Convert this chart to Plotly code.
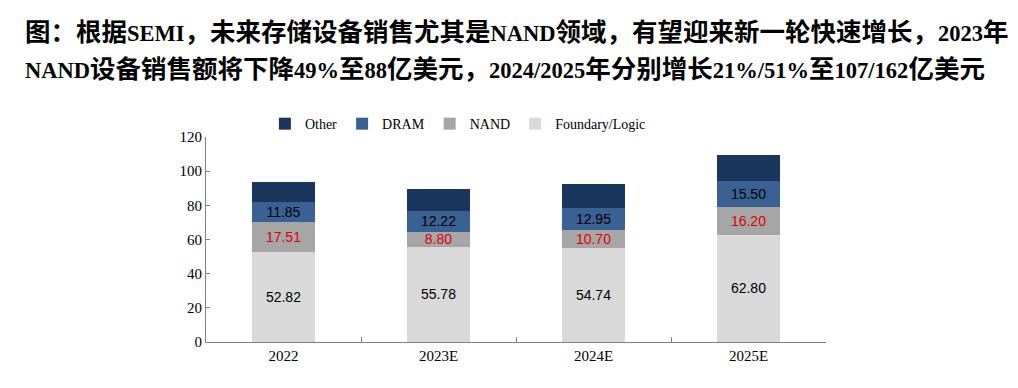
import re
import plotly.graph_objects as go

categories = ["2022", "2023E", "2024E", "2025E"]
foundry_logic = [52.82, 55.78, 54.74, 62.80]
nand = [17.51, 8.80, 10.70, 16.20]
dram = [11.85, 12.22, 12.95, 15.50]
other = [11.6, 13.0, 14.1, 15.2]

title_line1 = "图：根据SEMI，未来存储设备销售尤其是NAND领域，有望迎来新一轮快速增长，2023年"
title_line2 = "NAND设备销售额将下降49%至88亿美元，2024/2025年分别增长21%/51%至107/162亿美元"

serif = "Liberation Serif, Times New Roman, serif"
sans = "Liberation Sans, Arial, sans-serif"
title_font = "Liberation Serif, Noto Sans CJK SC, serif"

# page offset by default body margin (8px)
W, H = 1010, 380
L, R, T, B = 198, 192, 129, 46


def styled_title(s):
    # Latin runs are set smaller than the CJK text, as in the reference
    return "<b>" + re.sub(r"([A-Za-z0-9%/]+)",
                          r'<span style="font-size:22.5px">\1</span>', s) + "</b>"


fig = go.Figure()
fig.add_trace(go.Bar(name="Foundary/Logic", x=categories, y=foundry_logic,
                     marker=dict(color="#D9D9D9", line=dict(width=0)),
                     text=[f"{v:.2f}" for v in foundry_logic], textposition="inside",
                     insidetextanchor="middle", textangle=0, constraintext="none",
                     textfont=dict(family=sans, size=14, color="#000000")))
fig.add_trace(go.Bar(name="NAND", x=categories, y=nand,
                     marker=dict(color="#A6A6A6", line=dict(width=0)),
                     text=[f"{v:.2f}" for v in nand], textposition="inside",
                     insidetextanchor="middle", textangle=0, constraintext="none",
                     textfont=dict(family=sans, size=14, color="#E00000")))
fig.add_trace(go.Bar(name="DRAM", x=categories, y=dram,
                     marker=dict(color="#3A6194", line=dict(width=0)),
                     text=[f"{v:.2f}" for v in dram], textposition="inside",
                     insidetextanchor="middle", textangle=0, constraintext="none",
                     textfont=dict(family=sans, size=14, color="#000000")))
fig.add_trace(go.Bar(name="Other", x=categories, y=other,
                     marker=dict(color="#1A365D", line=dict(width=0)),
                     hoverinfo="y"))

pw = W - L - R
ph = H - T - B


def px_to_paper(px, py):
    return (px - L) / pw, (H - B - py) / ph


t1x, t1y = px_to_paper(15, 24)
t2x, t2y = px_to_paper(15, 62)

fig.update_layout(
    barmode="stack",
    bargap=0.59,
    width=W, height=H,
    margin=dict(l=L, r=R, t=T, b=B),
    paper_bgcolor="white", plot_bgcolor="white",
    legend=dict(orientation="h", traceorder="reversed",
                x=0.095, xanchor="left", y=0.985, yanchor="bottom",
                font=dict(family=serif, size=14, color="#000000"),
                itemwidth=30, bgcolor="rgba(0,0,0,0)"),
    showlegend=True,
    annotations=[
        dict(text=styled_title(title_line1), x=t1x, y=t1y, xref="paper", yref="paper",
             xanchor="left", yanchor="middle", showarrow=False,
             font=dict(family=title_font, size=25.5, color="#000000")),
        dict(text=styled_title(title_line2), x=t2x, y=t2y, xref="paper", yref="paper",
             xanchor="left", yanchor="middle", showarrow=False,
             font=dict(family=title_font, size=25.5, color="#000000")),
    ],
)

fig.update_xaxes(type="category", showline=True, linecolor="#808080", linewidth=1,
                 ticks="inside", tickson="boundaries", ticklen=5, tickcolor="#808080",
                 tickfont=dict(family=serif, size=15, color="#000000"),
                 showgrid=False, zeroline=False)
fig.update_yaxes(range=[0, 120], dtick=20, showline=True, linecolor="#808080", linewidth=1,
                 ticks="inside", ticklen=4, tickcolor="#808080",
                 tickfont=dict(family=serif, size=15, color="#000000"),
                 showgrid=False, zeroline=False)

fig.write_html("out.html")
